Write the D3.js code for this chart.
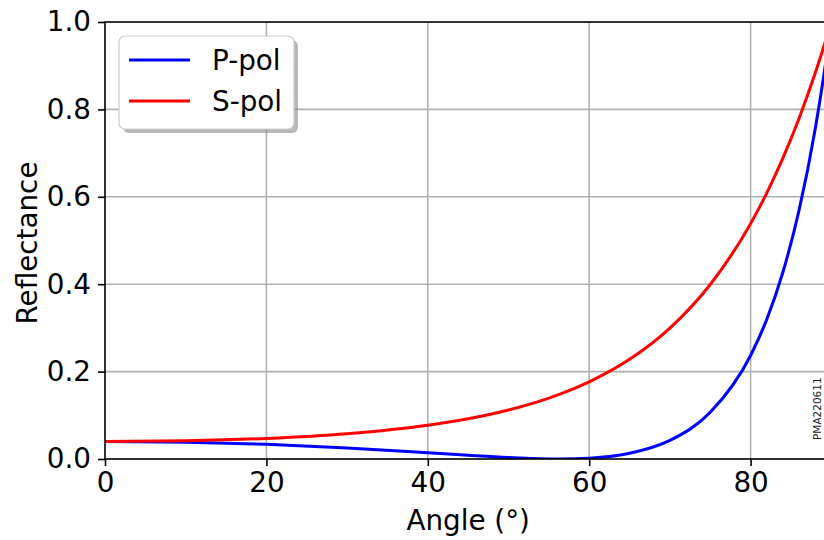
<!DOCTYPE html>
<html>
<head>
<meta charset="utf-8">
<script src="https://cdn.jsdelivr.net/npm/d3@7"></script>
<style>
  html, body { margin: 0; padding: 0; background: #fff; overflow: hidden; }
  svg { display: block; font-family: "DejaVu Sans", sans-serif; }
</style>
</head>
<body>
<div id="chart"></div>
<script>
// values
const angles = [0, 10, 20, 30, 40, 45, 50, 55, 56.3, 60, 65, 70, 75, 80, 82, 84, 86, 88, 89, 89.5, 90];
const pPol   = [0.040, 0.0384, 0.0335, 0.0253, 0.0143, 0.0085, 0.0033, 0.0002, 0.0, 0.0018, 0.0130, 0.0425, 0.1068, 0.2368, 0.3193, 0.4273, 0.5688, 0.7548, 0.8689, 0.9322, 1.0];
const sPol   = [0.040, 0.0417, 0.0471, 0.0578, 0.0772, 0.0920, 0.1121, 0.1393, 0.1479, 0.1766, 0.2281, 0.2996, 0.3994, 0.5386, 0.6086, 0.6884, 0.7793, 0.8826, 0.9395, 0.9693, 1.0];
const xTicks = [0, 20, 40, 60, 80];
const yTicks = [0.0, 0.2, 0.4, 0.6, 0.8, 1.0];
const seriesNames = ["P-pol", "S-pol"];
const seriesColors = ["#0000ff", "#ff0000"];

const W = 824, H = 540;
const plotLeft = 105, plotTop = 22, plotBottom = 459;
const plotRight = plotLeft + 90 * 8.07;
const fontPx = "27.8px";

const svg = d3.select("#chart").append("svg")
    .attr("width", W)
    .attr("height", H);

let x = d3.scaleLinear().domain([0, 90]).range([plotLeft, plotRight]);
let y = d3.scaleLinear().domain([0, 1]).range([plotBottom, plotTop]);

// grid
svg.append("g")
    .selectAll("line")
    .data(xTicks.slice(1))
    .enter().append("line")
    .attr("x1", d => x(d)).attr("x2", d => x(d))
    .attr("y1", plotTop).attr("y2", plotBottom)
    .attr("stroke", "#b0b0b0").attr("stroke-width", 1.6);

svg.append("g")
    .selectAll("line")
    .data(yTicks.slice(1, -1))
    .enter().append("line")
    .attr("x1", plotLeft).attr("x2", plotRight)
    .attr("y1", d => y(d)).attr("y2", d => y(d))
    .attr("stroke", "#b0b0b0").attr("stroke-width", 1.6);

// curves
svg.append("clipPath").attr("id", "plotClip")
    .append("rect")
    .attr("x", plotLeft).attr("y", plotTop - 2)
    .attr("width", plotRight - plotLeft).attr("height", plotBottom - plotTop + 2);

let line = d3.line()
    .x(d => x(d[0]))
    .y(d => y(d[1]))
    .curve(d3.curveMonotoneX);

[pPol, sPol].forEach(function (vals, i) {
    svg.append("path")
        .datum(angles.map((a, j) => [a, vals[j]]))
        .attr("fill", "none")
        .attr("stroke", seriesColors[i])
        .attr("stroke-width", 3)
        .attr("clip-path", "url(#plotClip)")
        .attr("d", line);
});

// axes
let xAxis = svg.append("g")
    .attr("transform", "translate(0," + plotBottom + ")")
    .call(d3.axisBottom(x).tickValues(xTicks).tickFormat(d3.format("d")).tickSize(7).tickPadding(6));
let yAxis = svg.append("g")
    .attr("transform", "translate(" + plotLeft + ",0)")
    .call(d3.axisLeft(y).tickValues(yTicks).tickFormat(d3.format(".1f")).tickSize(7).tickPadding(7));

[xAxis, yAxis].forEach(function (ax) {
    ax.select(".domain").remove();
    ax.selectAll("line").attr("stroke", "#000").attr("stroke-width", 1.6);
    ax.selectAll("text").attr("fill", "#000").style("font-size", fontPx)
        .style("font-family", "DejaVu Sans");
});

// spines
svg.append("rect")
    .attr("x", plotLeft).attr("y", plotTop)
    .attr("width", plotRight - plotLeft).attr("height", plotBottom - plotTop)
    .attr("fill", "none").attr("stroke", "#000").attr("stroke-width", 1.6);

// axis labels
svg.append("text")
    .attr("x", (plotLeft + plotRight) / 2).attr("y", 530)
    .attr("text-anchor", "middle")
    .style("font-size", fontPx)
    .text("Angle (°)");

svg.append("text")
    .attr("transform", "translate(37,243) rotate(-90)")
    .attr("text-anchor", "middle")
    .style("font-size", fontPx)
    .text("Reflectance");

// legend
let legend = svg.append("g").attr("transform", "translate(119,36)");
legend.append("rect")
    .attr("x", 4).attr("y", 4)
    .attr("width", 175).attr("height", 93).attr("rx", 6)
    .attr("fill", "#888").attr("opacity", 0.6);
legend.append("rect")
    .attr("width", 175).attr("height", 93).attr("rx", 6)
    .attr("fill", "#fff").attr("stroke", "#cccccc").attr("stroke-width", 1.2);

seriesNames.forEach(function (name, i) {
    let row = legend.append("g").attr("transform", "translate(0," + (24 + i * 41) + ")");
    row.append("line")
        .attr("x1", 10).attr("x2", 71)
        .attr("stroke", seriesColors[i]).attr("stroke-width", 3);
    row.append("text")
        .attr("x", 93).attr("y", 10)
        .style("font-size", fontPx)
        .text(name);
});

// side watermark
svg.append("text")
    .attr("transform", "translate(821,440) rotate(-90)")
    .style("font-size", "10.5px")
    .attr("fill", "#222")
    .text("PMA220611");
</script>
</body>
</html>
